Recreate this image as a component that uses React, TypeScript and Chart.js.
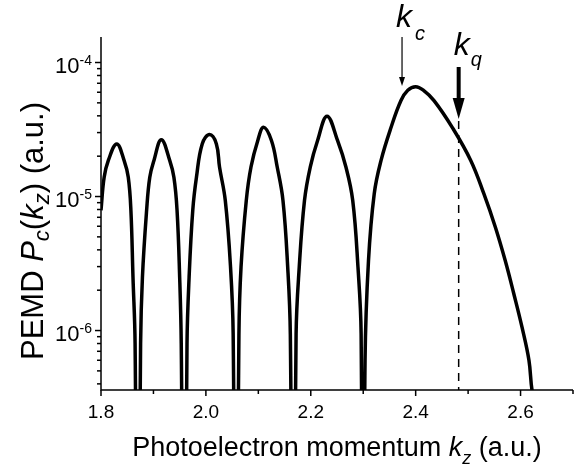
import React, { useEffect, useRef } from 'react';
import { Chart, registerables } from 'chart.js';

Chart.register(...registerables);

// Photoelectron momentum k_z (a.u.)
const KZ = [
  1.800, 1.806, 1.814, 1.830, 1.844, 1.852, 1.857, 1.861, 1.865, 1.870,
  1.8755, 1.879, 1.887, 1.893, 1.901, 1.915, 1.931, 1.939, 1.945, 1.950, 1.953, 1.959,
  1.964, 1.968, 1.975, 1.982, 1.993, 2.007, 2.020, 2.026, 2.037, 2.047, 2.052, 2.057,
  2.063, 2.067, 2.077, 2.086, 2.099, 2.110, 2.125, 2.136, 2.147, 2.156, 2.161, 2.1665,
  2.172, 2.178, 2.188, 2.199, 2.213, 2.231, 2.251, 2.267, 2.280, 2.290, 2.296, 2.300,
  2.3035, 2.310, 2.321, 2.334, 2.353, 2.372, 2.385, 2.400, 2.415, 2.435, 2.470, 2.505,
  2.530, 2.552, 2.571, 2.587, 2.603, 2.616, 2.622, 2.640,
];

// PEMD P_c(k_z) (a.u.)
const PC = [
  7.9e-6, 1.39e-5, 1.86e-5, 2.47e-5, 1.86e-5, 1.39e-5, 7.9e-6, 2.5e-6, 8.0e-7, 1e-9,
  8.0e-7, 2.5e-6, 7.9e-6, 1.39e-5, 1.86e-5, 2.65e-5, 1.86e-5, 1.39e-5, 7.9e-6, 2.5e-6, 8.0e-7, 1e-9,
  8.0e-7, 2.5e-6, 7.9e-6, 1.39e-5, 2.47e-5, 2.9e-5, 2.47e-5, 1.66e-5, 9.33e-6, 2.97e-6, 9.44e-7, 1e-9,
  9.44e-7, 2.97e-6, 9.33e-6, 1.66e-5, 2.62e-5, 3.29e-5, 2.62e-5, 1.66e-5, 9.33e-6, 2.97e-6, 9.44e-7, 1e-9,
  9.44e-7, 2.97e-6, 9.33e-6, 1.66e-5, 2.62e-5, 3.98e-5, 2.62e-5, 1.66e-5, 9.33e-6, 2.97e-6, 9.44e-7, 1e-9,
  6.0e-7, 3.3e-6, 1.05e-5, 1.86e-5, 3.27e-5, 5.2e-5, 6.2e-5, 6.6e-5, 6.2e-5, 5.2e-5, 3.27e-5, 1.86e-5,
  1.05e-5, 5.9e-6, 3.3e-6, 1.89e-6, 1.05e-6, 6.0e-7, 3.56e-7, 1.5e-7,
];

const X_TICKS = [1.8, 2.0, 2.2, 2.4, 2.6];
const X_MINOR = [1.9, 2.1, 2.3, 2.5, 2.7];
const Y_DECADES = [-4, -5, -6, -7];
const X_MIN = 1.8;
const X_MAX = 2.7;
const Y_MIN = 3.6e-7;
const Y_MAX = 1.55e-4;
const K_C = 2.374;
const K_Q = 2.482;

const FAMILY = '"Liberation Sans", Arial, Helvetica, sans-serif';

type Part = { t: string; it?: boolean; sub?: boolean; sup?: boolean };

function drawRich(
  ctx: CanvasRenderingContext2D,
  parts: Part[],
  x: number,
  y: number,
  size: number,
  align: 'left' | 'center' | 'right',
  scriptScale = 0.65,
  subShift = 0.28,
) {
  const fontFor = (p: Part) =>
    `${p.it ? 'italic ' : ''}${p.sub || p.sup ? Math.round(size * scriptScale) : size}px ${FAMILY}`;
  let total = 0;
  for (const p of parts) {
    ctx.font = fontFor(p);
    total += ctx.measureText(p.t).width;
  }
  let cx = align === 'left' ? x : align === 'center' ? x - total / 2 : x - total;
  ctx.textAlign = 'left';
  ctx.textBaseline = 'alphabetic';
  for (const p of parts) {
    ctx.font = fontFor(p);
    const dy = p.sub ? size * subShift : p.sup ? -size * 0.34 : 0;
    ctx.fillText(p.t, cx, y + dy);
    cx += ctx.measureText(p.t).width;
  }
}

const decorPlugin = {
  id: 'decor',
  afterDraw(chart: any) {
    const { ctx, chartArea } = chart;
    const { left, right, top, bottom } = chartArea;
    const xs = chart.scales.x;
    const ys = chart.scales.y;
    ctx.save();
    ctx.strokeStyle = '#000';
    ctx.fillStyle = '#000';
    ctx.lineWidth = 1.5;
    // axis lines
    ctx.beginPath();
    ctx.moveTo(left, top);
    ctx.lineTo(left, bottom);
    ctx.lineTo(right, bottom);
    ctx.stroke();
    // x ticks
    for (const v of X_TICKS) {
      const px = xs.getPixelForValue(v);
      ctx.beginPath();
      ctx.moveTo(px, bottom);
      ctx.lineTo(px, bottom + 6);
      ctx.stroke();
    }
    for (const v of X_MINOR) {
      const px = xs.getPixelForValue(v);
      ctx.beginPath();
      ctx.moveTo(px, bottom);
      ctx.lineTo(px, bottom + 4);
      ctx.stroke();
    }
    // y ticks
    for (const d of Y_DECADES) {
      for (let m = 1; m <= 9; m++) {
        const v = m * Math.pow(10, d);
        if (v < Y_MIN * 0.999 || v > Y_MAX) continue;
        const py = ys.getPixelForValue(v);
        ctx.beginPath();
        ctx.moveTo(left - (m === 1 ? 6 : 4), py);
        ctx.lineTo(left, py);
        ctx.stroke();
        if (m === 1) {
          drawRich(ctx, [{ t: '10' }, { t: String(d), sup: true }], left - 9, py + 10, 22, 'right');
        }
      }
    }
    // x title
    drawRich(
      ctx,
      [{ t: 'Photoelectron momentum ' }, { t: 'k', it: true }, { t: 'z', it: true, sub: true }, { t: ' (a.u.)' }],
      (left + right) / 2,
      456,
      27,
      'center',
    );
    // y title
    ctx.save();
    ctx.translate(43, 231);
    ctx.rotate(-Math.PI / 2);
    drawRich(
      ctx,
      [
        { t: 'PEMD ' },
        { t: 'P', it: true },
        { t: 'c', it: true, sub: true },
        { t: '(' },
        { t: 'k', it: true },
        { t: 'z', it: true, sub: true },
        { t: ') (a.u.)' },
      ],
      0,
      0,
      31,
      'center',
      0.7,
      0.18,
    );
    ctx.restore();

    // k_c annotation: thin arrow
    const xc = xs.getPixelForValue(K_C);
    ctx.lineWidth = 1.2;
    ctx.beginPath();
    ctx.moveTo(xc, top);
    ctx.lineTo(xc, top + 42);
    ctx.stroke();
    ctx.beginPath();
    ctx.moveTo(xc - 3, top + 40);
    ctx.lineTo(xc + 3, top + 40);
    ctx.lineTo(xc, top + 49);
    ctx.closePath();
    ctx.fill();
    drawRich(ctx, [{ t: 'k', it: true }], xc - 6, 27, 32, 'left');
    drawRich(ctx, [{ t: 'c', it: true }], xc + 13, 40, 20, 'left');

    // k_q annotation: thick arrow + dashed line
    const xq = xs.getPixelForValue(K_Q);
    ctx.lineWidth = 4;
    ctx.beginPath();
    ctx.moveTo(xq, 67);
    ctx.lineTo(xq, 100);
    ctx.stroke();
    ctx.beginPath();
    ctx.moveTo(xq - 6, 98);
    ctx.lineTo(xq + 6, 98);
    ctx.lineTo(xq, 119);
    ctx.closePath();
    ctx.fill();
    ctx.lineWidth = 1.5;
    ctx.setLineDash([8, 6]);
    ctx.beginPath();
    ctx.moveTo(xq, 121);
    ctx.lineTo(xq, bottom);
    ctx.stroke();
    ctx.setLineDash([]);
    drawRich(ctx, [{ t: 'k', it: true }], xq - 5, 55, 32, 'left');
    drawRich(ctx, [{ t: 'q', it: true }], xq + 12, 66, 20, 'left');
    ctx.restore();
  },
};

export default function App() {
  const ref = useRef<HTMLCanvasElement>(null);
  useEffect(() => {
    const points = KZ.map((k, i) => ({ x: k, y: PC[i] }));
    const chart = new Chart(ref.current as HTMLCanvasElement, {
      type: 'line',
      data: {
        datasets: [
          {
            data: points,
            borderColor: '#000',
            borderWidth: 3.5,
            pointRadius: 0,
            tension: 0.4,
            fill: false,
            clip: 0,
          } as any,
        ],
      },
      options: {
        animation: false,
        responsive: false,
        events: [],
        layout: { padding: { left: 0, top: 37, right: 8, bottom: 0 } },
        plugins: { legend: { display: false }, tooltip: { enabled: false } },
        scales: {
          x: {
            type: 'linear',
            min: X_MIN,
            max: X_MAX,
            grid: { display: false, drawTicks: false },
            border: { display: false },
            afterBuildTicks: (s: any) => {
              s.ticks = X_TICKS.map((v) => ({ value: v }));
            },
            afterFit: (s: any) => {
              s.height = 78;
            },
            ticks: {
              color: '#000',
              font: { family: FAMILY, size: 19 },
              padding: 11,
              maxRotation: 0,
              autoSkip: false,
              callback: (v: any) => Number(v).toFixed(1),
            },
          },
          y: {
            type: 'logarithmic',
            min: Y_MIN,
            max: Y_MAX,
            grid: { display: false, drawTicks: false },
            border: { display: false },
            ticks: { display: false },
            afterFit: (s: any) => {
              s.width = 101;
            },
          },
        },
      },
      plugins: [decorPlugin],
    });
    return () => chart.destroy();
  }, []);
  return (
    <div style={{ position: 'fixed', left: 0, top: 0, width: 581, height: 468, background: '#fff' }}>
      <canvas ref={ref} width={581} height={468} style={{ width: 581, height: 468, display: 'block' }} />
    </div>
  );
}
